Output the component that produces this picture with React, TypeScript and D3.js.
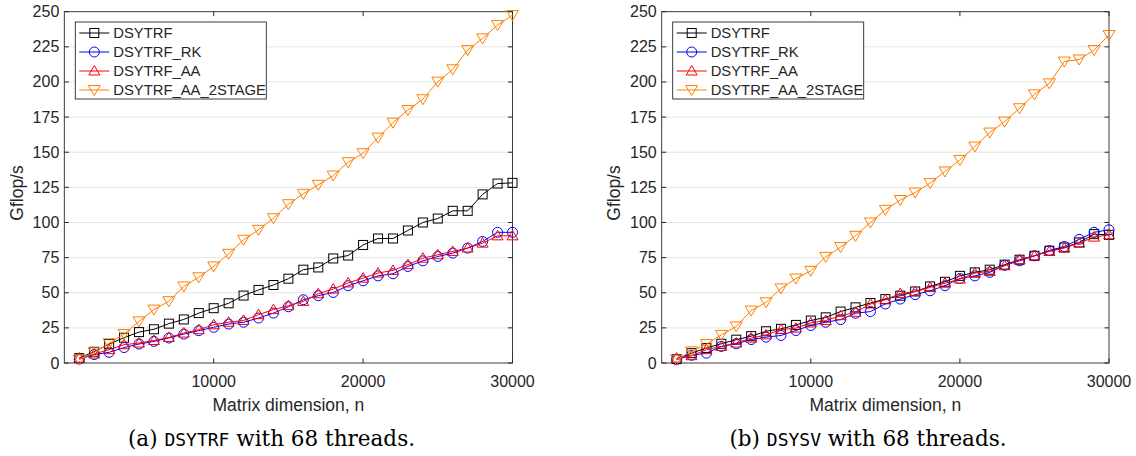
import React from "react";
import * as d3 from "d3";

// matrix sizes on the x axis
const nValues = [
  1000, 2000, 3000, 4000, 5000, 6000, 7000, 8000, 9000, 10000, 11000, 12000,
  13000, 14000, 15000, 16000, 17000, 18000, 19000, 20000, 21000, 22000, 23000,
  24000, 25000, 26000, 27000, 28000, 29000, 30000,
];

const seriesNames = ["DSYTRF", "DSYTRF_RK", "DSYTRF_AA", "DSYTRF_AA_2STAGE"];

// (a) DSYTRF
const dsytrfA = [3.5, 8, 13.5, 18, 22, 24, 28, 31, 35.5, 39, 42.5, 48, 52, 55.5, 60, 66.4, 68, 74.4, 76.5, 84, 88.6, 88.6, 94.3, 100, 102.8, 108.3, 108.3, 120, 127.7, 128.2];
const dsytrfRkA = [2.8, 6, 7.6, 11, 13.5, 15.4, 17.8, 20.6, 23, 25.4, 27.7, 29, 32, 35.5, 40, 45, 47.9, 50.2, 55, 58.5, 62, 63.5, 68.7, 72.7, 75.8, 78.2, 81.8, 86.5, 93, 93];
const dsytrfAaA = [3.5, 6.4, 9.5, 13, 14.2, 16, 18.2, 21.3, 23.7, 27.2, 29, 30.3, 34.4, 38, 40.8, 43.8, 49.3, 52.6, 57, 60.4, 64, 65.9, 70, 74.6, 77, 79.4, 81.8, 85.3, 90.5, 90.5];
const dsytrf2sA = [2.5, 7.5, 14, 20.6, 29.6, 38, 44, 54.5, 61, 68.7, 77.7, 87.7, 94.8, 103, 113, 120.4, 126.8, 133.4, 142.9, 149.3, 160.4, 171, 180, 187.7, 200.2, 209, 222.7, 231, 240.5, 247.6];

// (b) DSYSV
const dsytrfB = [2.8, 7, 10.7, 13.7, 16.6, 19.1, 22.6, 24.3, 27.1, 30.2, 32.5, 36.6, 39.6, 42.7, 45.5, 47.9, 50.9, 54.5, 57.8, 62, 64.5, 66.4, 70, 73.5, 76.3, 79.9, 82.2, 85.8, 91.7, 91.2];
const dsytrfRkB = [2.4, 5.5, 7, 11.8, 13.7, 16.7, 18.4, 19.6, 23.1, 26.7, 29, 30.9, 35.4, 36.6, 42, 45.5, 48.6, 51.4, 55, 60.1, 62, 64.5, 69.5, 72.7, 76.3, 80, 82.9, 88, 93, 94.8];
const dsytrfAaB = [3.5, 5.2, 9.5, 11.8, 14.2, 17.7, 20, 23.8, 24.8, 28.5, 30.2, 33.7, 36.1, 42, 45, 49.5, 50.9, 53.8, 56.8, 59.7, 64, 65.2, 69.2, 73.5, 76.3, 79.4, 81.8, 85.3, 89.6, 91.2];
const dsytrf2sB = [2.4, 8.3, 13.5, 20, 26, 37.3, 43.2, 53.1, 60.1, 65.6, 75.5, 82.5, 90.5, 100, 109, 116, 121.3, 128, 136.3, 144.5, 154, 164, 171.8, 181.3, 191.2, 199, 214.5, 216, 222.7, 233.4];

const yTicks = [0, 25, 50, 75, 100, 125, 150, 175, 200, 225, 250];
const xTicks = [10000, 20000, 30000];

const colors = ["#000000", "#0000ff", "#ff0000", "#ff8000"];
const markers = ["square", "circle", "up", "down"];

const width = 1136;
const height = 456;
const top = 11.7;
const bottom = 363;
const axisColor = "#262626";
const sans = "Liberation Sans, Arial, sans-serif";
const serif = "DejaVu Serif, Liberation Serif, serif";
const mono = "DejaVu Sans Mono, Liberation Mono, monospace";

const Marker = ({ kind, x, y, color }) => {
  if (kind === "square")
    return <rect x={x - 4.5} y={y - 4.5} width={9} height={9} fill="none" stroke={color} />;
  if (kind === "circle")
    return <circle cx={x} cy={y} r={5} fill="none" stroke={color} />;
  if (kind === "up")
    return <path d={`M${x},${y - 5.5}L${x + 5.5},${y + 4}L${x - 5.5},${y + 4}Z`} fill="none" stroke={color} />;
  return <path d={`M${x},${y + 5.5}L${x + 6},${y - 4.5}L${x - 6},${y - 4.5}Z`} fill="none" stroke={color} />;
};

const Panel = ({ left, right, series, caption, code, captionX }) => {
  const x = d3.scaleLinear().domain([0, 30000]).range([left, right]);
  const y = d3.scaleLinear().domain([0, 250]).range([bottom, top]);
  const line = d3
    .line()
    .x((d) => x(d[0]))
    .y((d) => y(d[1]));

  const legX = left + 11;
  const legY = 22;

  return (
    <g>
      {yTicks.slice(1, -1).map((t) => (
        <line key={"g" + t} x1={left} x2={right} y1={y(t)} y2={y(t)} stroke="#e4e4e4" strokeWidth={1} />
      ))}
      <rect x={left} y={top} width={right - left} height={bottom - top} fill="none" stroke={axisColor} strokeWidth={0.9} />
      {yTicks.map((t) => (
        <g key={"y" + t}>
          <line x1={left} x2={left + 4.5} y1={y(t)} y2={y(t)} stroke={axisColor} />
          <line x1={right} x2={right - 4.5} y1={y(t)} y2={y(t)} stroke={axisColor} />
          <text x={left - 5} y={y(t)} textAnchor="end" dominantBaseline="central" fontSize={16} fill={axisColor} fontFamily={sans}>
            {t}
          </text>
        </g>
      ))}
      {xTicks.map((t) => (
        <g key={"x" + t}>
          <line x1={x(t)} x2={x(t)} y1={bottom} y2={bottom - 4.5} stroke={axisColor} />
          <line x1={x(t)} x2={x(t)} y1={top} y2={top + 4.5} stroke={axisColor} />
          <text x={x(t)} y={387} textAnchor="middle" fontSize={16} fill={axisColor} fontFamily={sans}>
            {t}
          </text>
        </g>
      ))}
      <text x={(left + right) / 2} y={411} textAnchor="middle" fontSize={17.5} fill={axisColor} fontFamily={sans}>
        Matrix dimension, n
      </text>
      <text
        transform={`translate(${left - 41.5},${193}) rotate(-90)`}
        textAnchor="middle"
        fontSize={17.5}
        fill={axisColor}
        fontFamily={sans}
      >
        Gflop/s
      </text>

      {series.map((s, i) => {
        const pts = nValues.map((n, j) => [n, s[j]]);
        return (
          <g key={"s" + i}>
            <path d={line(pts)} fill="none" stroke={colors[i]} strokeWidth={1} />
            {pts.map((p, j) => (
              <Marker key={j} kind={markers[i]} x={x(p[0])} y={y(p[1])} color={colors[i]} />
            ))}
          </g>
        );
      })}

      <rect x={legX} y={legY} width={191} height={77} fill="white" stroke={axisColor} strokeWidth={0.9} />
      {seriesNames.map((name, i) => {
        const ly = legY + 11 + i * 19;
        return (
          <g key={"l" + i}>
            <line x1={legX + 4} x2={legX + 34} y1={ly} y2={ly} stroke={colors[i]} />
            <Marker kind={markers[i]} x={legX + 19} y={ly} color={colors[i]} />
            <text x={legX + 38} y={ly} dominantBaseline="central" fontSize={14.8} fill={axisColor} fontFamily={sans}>
              {name}
            </text>
          </g>
        );
      })}

      <text x={captionX} y={446} textAnchor="middle" fill="#000">
        <tspan fontFamily={serif} fontSize={21.5}>{`(${caption}) `}</tspan>
        <tspan fontFamily={mono} fontSize={18}>{code}</tspan>
        <tspan fontFamily={serif} fontSize={21.5}>{" with 68 threads."}</tspan>
      </text>
    </g>
  );
};

const App = () => {
  return (
    <svg
      width={width}
      height={height}
      viewBox={`0 0 ${width} ${height}`}
      style={{ position: "absolute", left: 0, top: 0, background: "white" }}
    >
      <Panel
        left={64.3}
        right={512.5}
        series={[dsytrfA, dsytrfRkA, dsytrfAaA, dsytrf2sA]}
        caption="a"
        code="DSYTRF"
        captionX={271.5}
      />
      <Panel
        left={661.7}
        right={1109}
        series={[dsytrfB, dsytrfRkB, dsytrfAaB, dsytrf2sB]}
        caption="b"
        code="DSYSV"
        captionX={868}
      />
    </svg>
  );
};

export default App;
